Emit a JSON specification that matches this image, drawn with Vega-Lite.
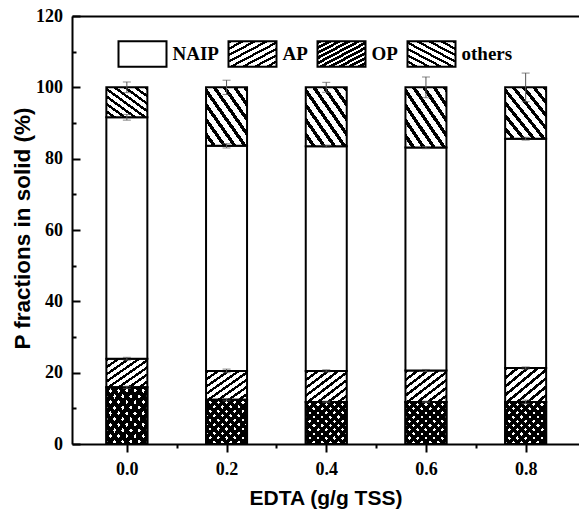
{
  "$schema": "https://vega.github.io/schema/vega-lite/v6.json",
  "autosize": {"type": "none"},
  "padding": {"left": 72, "top": 16, "right": 0, "bottom": 73},
  "width": 507,
  "height": 428,
  "background": "white",
  "config": {
    "view": {"stroke": null},
    "axis": {"grid": false, "domainColor": "black", "domainWidth": 2, "tickColor": "black", "tickWidth": 2,
      "labelFont": "Liberation Serif", "labelFontWeight": "bold", "labelFontSize": 18, "labelColor": "black",
      "titleFont": "Liberation Sans", "titleFontWeight": "bold", "titleFontSize": 21, "titleColor": "black"},
    "legend": {"orient": "none", "legendX": 45.5, "legendY": 13, "direction": "horizontal", "columns": 4,
      "symbolType": "M-1,-0.53L1,-0.53L1,0.53L-1,0.53Z", "symbolSize": 2304, "symbolStrokeColor": "black", "symbolStrokeWidth": 2,
      "labelFont": "Liberation Serif", "labelFontWeight": "bold", "labelFontSize": 19, "labelColor": "black",
      "labelOffset": 5, "columnPadding": 5, "padding": 0, "gridAlign": "none"}
  },
  "datasets": {
    "parts": [
      {"edta": 0.0, "part": "OP", "v": 15.9}, {"edta": 0.0, "part": "AP", "v": 8.0}, {"edta": 0.0, "part": "NAIP", "v": 67.7}, {"edta": 0.0, "part": "others", "v": 8.4},
      {"edta": 0.2, "part": "OP", "v": 12.4}, {"edta": 0.2, "part": "AP", "v": 8.1}, {"edta": 0.2, "part": "NAIP", "v": 63.1}, {"edta": 0.2, "part": "others", "v": 16.4},
      {"edta": 0.4, "part": "OP", "v": 11.8}, {"edta": 0.4, "part": "AP", "v": 8.7}, {"edta": 0.4, "part": "NAIP", "v": 63.0}, {"edta": 0.4, "part": "others", "v": 16.5},
      {"edta": 0.6, "part": "OP", "v": 11.8}, {"edta": 0.6, "part": "AP", "v": 8.8}, {"edta": 0.6, "part": "NAIP", "v": 62.5}, {"edta": 0.6, "part": "others", "v": 16.9},
      {"edta": 0.8, "part": "OP", "v": 11.8}, {"edta": 0.8, "part": "AP", "v": 9.5}, {"edta": 0.8, "part": "NAIP", "v": 64.3}, {"edta": 0.8, "part": "others", "v": 14.4}
    ],
    "err": [
      {"edta": 0.0, "lo": 98.5, "hi": 101.5}, {"edta": 0.0, "lo": 90.8, "hi": 92.4}, {"edta": 0.0, "lo": 23.5, "hi": 24.3}, {"edta": 0.0, "lo": 15.6, "hi": 16.2},
      {"edta": 0.2, "lo": 98.0, "hi": 102.0}, {"edta": 0.2, "lo": 83.0, "hi": 84.2}, {"edta": 0.2, "lo": 20.0, "hi": 21.0}, {"edta": 0.2, "lo": 12.1, "hi": 12.7},
      {"edta": 0.4, "lo": 98.6, "hi": 101.4}, {"edta": 0.4, "lo": 83.2, "hi": 83.8}, {"edta": 0.4, "lo": 20.2, "hi": 20.8}, {"edta": 0.4, "lo": 11.6, "hi": 12.0},
      {"edta": 0.6, "lo": 97.1, "hi": 102.9}, {"edta": 0.6, "lo": 82.8, "hi": 83.4}, {"edta": 0.6, "lo": 20.3, "hi": 20.9}, {"edta": 0.6, "lo": 11.6, "hi": 12.0},
      {"edta": 0.8, "lo": 96.0, "hi": 104.0}, {"edta": 0.8, "lo": 85.2, "hi": 86.0}, {"edta": 0.8, "lo": 21.0, "hi": 21.6}, {"edta": 0.8, "lo": 11.3, "hi": 12.3}
    ]
  },
  "resolve": {"axis": {"x": "independent", "y": "independent"}},
  "layer": [
    {
      "data": {"name": "parts"},
      "transform": [{"calculate": "indexof(['OP','AP','NAIP','others'], datum.part)", "as": "ord"}],
      "mark": {"type": "bar", "width": 41, "stroke": "black", "strokeWidth": 2},
      "encoding": {
        "x": {"field": "edta", "type": "quantitative",
          "scale": {"domain": [-0.1, 0.897], "nice": false, "zero": false},
          "axis": {"orient": "bottom", "values": [0, 0.2, 0.4, 0.6, 0.8], "format": ".1f", "tickSize": 8, "labelPadding": 8,
            "title": "EDTA (g/g TSS)", "titleY": 54, "titleBaseline": "middle"}},
        "y": {"field": "v", "type": "quantitative", "stack": "zero",
          "scale": {"domain": [0, 120], "nice": false},
          "axis": {"orient": "left", "values": [0, 20, 40, 60, 80, 100, 120], "ticks": false, "labelPadding": 9.5,
            "title": "P fractions in solid (%)", "titleFontSize": 22.5, "titleX": -50, "titleY": 212, "titleBaseline": "middle", "titleAngle": -90, "titleAlign": "center"}},
        "order": {"field": "ord", "type": "quantitative"},
        "color": {"field": "part", "type": "nominal", "title": null,
          "scale": {"domain": ["NAIP", "AP", "OP", "others"],
            "range": [
              "#ffffff",
              {"expr": "{gradient:'linear',x1:0,y1:0,x2:1,y2:1,stops:[{offset:0,color:'#000'},{offset:0.05,color:'#000'},{offset:0.05,color:'#fff'},{offset:0.125,color:'#fff'},{offset:0.125,color:'#000'},{offset:0.175,color:'#000'},{offset:0.175,color:'#fff'},{offset:0.25,color:'#fff'},{offset:0.25,color:'#000'},{offset:0.3,color:'#000'},{offset:0.3,color:'#fff'},{offset:0.375,color:'#fff'},{offset:0.375,color:'#000'},{offset:0.425,color:'#000'},{offset:0.425,color:'#fff'},{offset:0.5,color:'#fff'},{offset:0.5,color:'#000'},{offset:0.55,color:'#000'},{offset:0.55,color:'#fff'},{offset:0.625,color:'#fff'},{offset:0.625,color:'#000'},{offset:0.675,color:'#000'},{offset:0.675,color:'#fff'},{offset:0.75,color:'#fff'},{offset:0.75,color:'#000'},{offset:0.8,color:'#000'},{offset:0.8,color:'#fff'},{offset:0.875,color:'#fff'},{offset:0.875,color:'#000'},{offset:0.925,color:'#000'},{offset:0.925,color:'#fff'},{offset:1,color:'#fff'}]}"},
              {"expr": "{gradient:'linear',x1:0,y1:0,x2:1,y2:1,stops:[{offset:0,color:'#000'},{offset:0.06,color:'#000'},{offset:0.06,color:'#fff'},{offset:0.1,color:'#fff'},{offset:0.1,color:'#000'},{offset:0.16,color:'#000'},{offset:0.16,color:'#fff'},{offset:0.2,color:'#fff'},{offset:0.2,color:'#000'},{offset:0.26,color:'#000'},{offset:0.26,color:'#fff'},{offset:0.3,color:'#fff'},{offset:0.3,color:'#000'},{offset:0.36,color:'#000'},{offset:0.36,color:'#fff'},{offset:0.4,color:'#fff'},{offset:0.4,color:'#000'},{offset:0.46,color:'#000'},{offset:0.46,color:'#fff'},{offset:0.5,color:'#fff'},{offset:0.5,color:'#000'},{offset:0.56,color:'#000'},{offset:0.56,color:'#fff'},{offset:0.6,color:'#fff'},{offset:0.6,color:'#000'},{offset:0.66,color:'#000'},{offset:0.66,color:'#fff'},{offset:0.7,color:'#fff'},{offset:0.7,color:'#000'},{offset:0.76,color:'#000'},{offset:0.76,color:'#fff'},{offset:0.8,color:'#fff'},{offset:0.8,color:'#000'},{offset:0.86,color:'#000'},{offset:0.86,color:'#fff'},{offset:0.9,color:'#fff'},{offset:0.9,color:'#000'},{offset:0.96,color:'#000'},{offset:0.96,color:'#fff'},{offset:1,color:'#fff'}]}"},
              {"expr": "{gradient:'linear',x1:1,y1:0,x2:0,y2:1,stops:[{offset:0,color:'#000'},{offset:0.05,color:'#000'},{offset:0.05,color:'#fff'},{offset:0.125,color:'#fff'},{offset:0.125,color:'#000'},{offset:0.175,color:'#000'},{offset:0.175,color:'#fff'},{offset:0.25,color:'#fff'},{offset:0.25,color:'#000'},{offset:0.3,color:'#000'},{offset:0.3,color:'#fff'},{offset:0.375,color:'#fff'},{offset:0.375,color:'#000'},{offset:0.425,color:'#000'},{offset:0.425,color:'#fff'},{offset:0.5,color:'#fff'},{offset:0.5,color:'#000'},{offset:0.55,color:'#000'},{offset:0.55,color:'#fff'},{offset:0.625,color:'#fff'},{offset:0.625,color:'#000'},{offset:0.675,color:'#000'},{offset:0.675,color:'#fff'},{offset:0.75,color:'#fff'},{offset:0.75,color:'#000'},{offset:0.8,color:'#000'},{offset:0.8,color:'#fff'},{offset:0.875,color:'#fff'},{offset:0.875,color:'#000'},{offset:0.925,color:'#000'},{offset:0.925,color:'#fff'},{offset:1,color:'#fff'}]}"}
            ]}}
      }
    },
    {
      "data": {"name": "parts"},
      "transform": [{"filter": "datum.part === 'OP'"}],
      "mark": {"type": "bar", "width": 41, "stroke": "black", "strokeWidth": 2,
        "fill": {"gradient": "linear", "x1": 1, "y1": 0, "x2": 0, "y2": 1, "stops": [
          {"offset": 0, "color": "#000"}, {"offset": 0.06, "color": "#000"}, {"offset": 0.06, "color": "rgba(0,0,0,0)"}, {"offset": 0.1, "color": "rgba(0,0,0,0)"},
          {"offset": 0.1, "color": "#000"}, {"offset": 0.16, "color": "#000"}, {"offset": 0.16, "color": "rgba(0,0,0,0)"}, {"offset": 0.2, "color": "rgba(0,0,0,0)"},
          {"offset": 0.2, "color": "#000"}, {"offset": 0.26, "color": "#000"}, {"offset": 0.26, "color": "rgba(0,0,0,0)"}, {"offset": 0.3, "color": "rgba(0,0,0,0)"},
          {"offset": 0.3, "color": "#000"}, {"offset": 0.36, "color": "#000"}, {"offset": 0.36, "color": "rgba(0,0,0,0)"}, {"offset": 0.4, "color": "rgba(0,0,0,0)"},
          {"offset": 0.4, "color": "#000"}, {"offset": 0.46, "color": "#000"}, {"offset": 0.46, "color": "rgba(0,0,0,0)"}, {"offset": 0.5, "color": "rgba(0,0,0,0)"},
          {"offset": 0.5, "color": "#000"}, {"offset": 0.56, "color": "#000"}, {"offset": 0.56, "color": "rgba(0,0,0,0)"}, {"offset": 0.6, "color": "rgba(0,0,0,0)"},
          {"offset": 0.6, "color": "#000"}, {"offset": 0.66, "color": "#000"}, {"offset": 0.66, "color": "rgba(0,0,0,0)"}, {"offset": 0.7, "color": "rgba(0,0,0,0)"},
          {"offset": 0.7, "color": "#000"}, {"offset": 0.76, "color": "#000"}, {"offset": 0.76, "color": "rgba(0,0,0,0)"}, {"offset": 0.8, "color": "rgba(0,0,0,0)"},
          {"offset": 0.8, "color": "#000"}, {"offset": 0.86, "color": "#000"}, {"offset": 0.86, "color": "rgba(0,0,0,0)"}, {"offset": 0.9, "color": "rgba(0,0,0,0)"},
          {"offset": 0.9, "color": "#000"}, {"offset": 0.96, "color": "#000"}, {"offset": 0.96, "color": "rgba(0,0,0,0)"}, {"offset": 1, "color": "rgba(0,0,0,0)"}
        ]}},
      "encoding": {
        "x": {"field": "edta", "type": "quantitative",
          "axis": {"orient": "bottom", "values": [0.1, 0.3, 0.5, 0.7], "tickSize": 4, "labels": false, "domain": false, "title": null}},
        "y": {"field": "v", "type": "quantitative",
          "axis": {"orient": "left", "values": [0, 20, 40, 60, 80, 100, 120], "tickSize": -8, "labels": false, "domain": false, "title": null}}
      }
    },
    {
      "data": {"name": "err"},
      "mark": {"type": "rule", "color": "#555555", "strokeWidth": 1},
      "encoding": {
        "x": {"field": "edta", "type": "quantitative",
          "axis": {"orient": "top", "ticks": false, "labels": false, "domain": true, "title": null}},
        "y": {"field": "lo", "type": "quantitative",
          "axis": {"orient": "left", "values": [10, 30, 50, 70, 90, 110], "tickSize": -4, "labels": false, "domain": false, "title": null}},
        "y2": {"field": "hi"}
      }
    },
    {
      "data": {"name": "err"},
      "mark": {"type": "tick", "orient": "horizontal", "color": "#555555", "size": 8, "thickness": 1},
      "encoding": {
        "x": {"field": "edta", "type": "quantitative", "axis": null},
        "y": {"field": "hi", "type": "quantitative", "axis": null}
      }
    },
    {
      "data": {"name": "err"},
      "mark": {"type": "tick", "orient": "horizontal", "color": "#555555", "size": 8, "thickness": 1},
      "encoding": {
        "x": {"field": "edta", "type": "quantitative", "axis": null},
        "y": {"field": "lo", "type": "quantitative", "axis": null}
      }
    }
  ]
}
